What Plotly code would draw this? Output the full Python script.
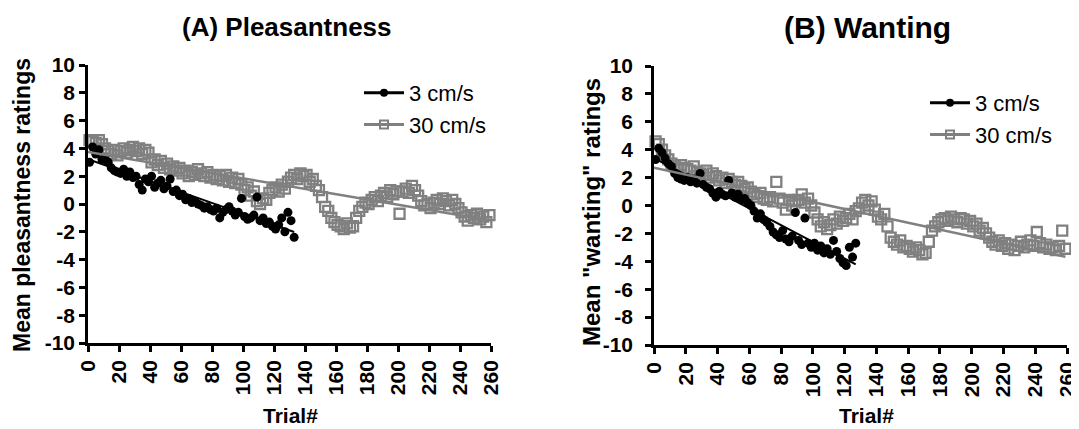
import numpy as np
import plotly.graph_objects as go

# ---------------- data ----------------
trials_30 = list(range(1, 260, 2))          # 30 cm/s trials (every other trial shown)
trials_3_pleas = list(range(1, 134, 2))     # 3 cm/s trials, pleasantness
trials_3_want = list(range(1, 128, 2))      # 3 cm/s trials, wanting

pleas_30 = [
    4.6, 4.5, 4.4, 4.6, 4.3,   4.0, 3.8, 3.6, 3.9, 3.5,
    3.8, 4.0, 3.7, 3.9, 4.1,   3.8, 4.0, 3.6, 3.9, 3.7,
    3.0, 3.2, 2.8, 3.1, 2.6,   2.9, 2.5, 2.7, 2.4, 2.6,
    2.2, 2.4, 2.0, 2.3, 2.1,   2.5, 2.2, 2.0, 2.3, 1.9,
    2.1, 1.8, 2.0, 1.7, 2.1,   1.6, 1.9, 1.5, 1.8, 1.4,
    1.0, 1.2, 0.6, 0.9, 0.2,   0.0, 0.4, 0.3, 0.8, 1.0,
    1.2, 0.9, 1.4, 1.1, 1.6,   1.9, 2.1, 1.8, 2.2, 2.0,
    2.1, 1.6, 1.8, 1.3, 1.0,   0.5, -0.2, -0.5, -1.0, -1.3,
    -1.5, -1.6, -1.8, -1.4, -1.7,   -1.6, -1.0, -0.5, -0.2, 0.1,
    0.0, 0.3, 0.5, 0.2, 0.6,   0.8, 0.5, 1.0, 0.7, 0.9,
    -0.7, 0.9, 1.1, 0.8, 1.3,   1.0, 0.6, 0.2, -0.1, 0.0,
    -0.3, 0.1, 0.3, 0.0, 0.4,   0.2, -0.1, 0.3, 0.0, -0.3,
    -0.6, -0.9, -1.2, -0.8, -1.0,   -0.7, -1.1, -0.9, -1.3, -0.8,
]

pleas_3 = [
    3.0, 4.1, 3.6, 3.9, 3.2,   3.3, 3.0, 2.6, 2.4, 2.3,
    2.2, 2.5, 2.0, 2.3, 1.9,   2.0, 1.4, 1.0, 1.8, 1.6,
    2.0, 1.2, 1.5, 1.7, 1.1,   1.3, 1.8, 0.9, 1.0, 0.6,
    0.7, 0.3, 0.4, 0.1, 0.2,   0.0, -0.1, -0.3, -0.2, -0.4,
    -0.5, -0.3, -1.0, -0.6, -0.4,   -0.2, -0.5, -0.8, -0.6, 0.4,
    -0.9, -1.1, -1.0, -0.8, 0.5,   -1.2, -1.0, -1.4, -1.3, -1.6,
    -1.8, -1.5, -1.0, -2.0, -0.6,   -1.2, -2.4,
]

want_30 = [
    4.6, 4.4, 4.0, 3.6, 3.3,   3.0, 2.8, 2.6, 2.9, 2.7,
    2.6, 2.5, 2.8, 2.4, 2.3,   2.2, 2.5, 2.0, 2.3, 2.1,
    1.8, 2.0, 1.6, 1.9, 1.7,   1.5, 1.7, 1.4, 1.2, 1.3,
    1.0, 0.8, 0.6, 0.9, 0.5,   0.4, 0.6, 0.3, 1.7, 0.5,
    0.2, -0.3, 0.4, 0.0, 0.3,   0.4, 0.8, 0.2, 0.5, 0.0,
    -0.5, -1.0, -1.5, -1.2, -1.7,   -1.4, -1.0, -1.3, -0.8, -1.1,
    -0.9, -0.6, -1.0, -0.4, -0.2,   0.2, 0.4, 0.0, 0.3, -0.3,
    -0.8, -1.0, -0.6, -1.5, -2.3,   -2.6, -2.8, -2.5, -3.0, -2.9,
    -3.1, -3.3, -3.0, -3.2, -3.5,   -3.4, -2.6, -1.8, -1.5, -1.2,
    -1.0, -0.9, -1.1, -0.8, -1.0,   -1.2, -0.9, -1.0, -1.3, -1.1,
    -1.5, -1.3, -1.8, -1.6, -2.0,   -2.3, -2.6, -2.8, -2.5, -2.9,
    -2.7, -3.1, -2.8, -3.2, -2.9,   -2.6, -3.0, -2.8, -2.5, -2.9,
    -1.9, -2.7, -3.0, -2.8, -3.1,   -3.0, -3.2, -2.9, -1.8, -3.1,
]

want_3 = [
    3.3, 4.1, 3.8, 3.4, 3.0,   2.8, 2.3, 2.0, 1.9, 1.8,
    2.0, 1.7, 1.9, 1.6, 2.3,   1.5, 1.3, 1.2, 0.9, 0.6,
    1.0, 0.8, 0.7, 1.8, 0.9,   0.6, 0.8, 0.4, 0.5, 0.2,
    0.0, -0.4, -0.9, -0.6, -1.0,   -1.2, -1.5, -1.9, -2.1, -2.3,
    -1.8, -2.4, -2.6, -2.2, -0.5,   -2.5, -2.8, -0.9, -2.7, -3.0,
    -2.7, -3.2, -2.9, -3.4, -3.1,   -3.5, -2.5, -3.3, -3.8, -4.1,
    -4.3, -3.0, -3.7, -2.7,
]

x_ticks = list(range(0, 261, 20))
y_ticks = list(range(-10, 11, 2))
x_ticktext = [str(v) for v in x_ticks]
y_ticktext = [str(v) for v in y_ticks]   # plain hyphen minus, as in the original
series_names = ["3 cm/s", "30 cm/s"]
panel_titles = ["(A) Pleasantness", "(B) Wanting"]
y_titles = ["Mean pleasantness ratings", 'Mean "wanting" ratings']
x_title = "Trial#"

BLACK = "#000000"
GREY = "#808080"
FONT = "Liberation Sans, Arial, sans-serif"

# the page body has an 8px default margin; lay out in page pixels and convert
OFF = 8
W, H = 1079 - OFF, 429 - OFF


def px(x):
    return (x - OFF) / W


def py(y):
    return 1 - (y - OFF) / H


fig = go.Figure()


def fit_line(xs, ys):
    xs = np.asarray(xs, float)
    ys = np.asarray(ys, float)
    m, b = np.polyfit(xs, ys, 1)
    xf = np.array([0.0, xs.max()])
    return xf, m * xf + b


panels = [
    ("x", "y", trials_3_pleas, pleas_3, pleas_30, "legend"),
    ("x2", "y2", trials_3_want, want_3, want_30, "legend2"),
]

for xa, ya, t3, v3, v30, leg in panels:
    fig.add_trace(go.Scatter(
        x=trials_30, y=v30, mode="markers", xaxis=xa, yaxis=ya,
        marker=dict(symbol="square-open", size=10, color=GREY, line=dict(width=2.3, color=GREY)),
        showlegend=False, cliponaxis=False, hoverinfo="skip"))
    fig.add_trace(go.Scatter(
        x=t3, y=v3, mode="markers", xaxis=xa, yaxis=ya,
        marker=dict(symbol="circle", size=9, color=BLACK),
        showlegend=False, cliponaxis=False, hoverinfo="skip"))
    xf, yf = fit_line(t3, v3)
    fig.add_trace(go.Scatter(x=xf, y=yf, mode="lines", xaxis=xa, yaxis=ya,
                             line=dict(color=BLACK, width=2), showlegend=False, hoverinfo="skip"))
    xf, yf = fit_line(trials_30, v30)
    fig.add_trace(go.Scatter(x=xf, y=yf, mode="lines", xaxis=xa, yaxis=ya,
                             line=dict(color=GREY, width=2.5), showlegend=False, hoverinfo="skip"))
    fig.add_trace(go.Scatter(x=[None], y=[None], mode="lines+markers", name=series_names[0],
                             xaxis=xa, yaxis=ya, legend=leg,
                             line=dict(color=BLACK, width=3),
                             marker=dict(symbol="circle", size=8, color=BLACK)))
    fig.add_trace(go.Scatter(x=[None], y=[None], mode="lines+markers", name=series_names[1],
                             xaxis=xa, yaxis=ya, legend=leg,
                             line=dict(color=GREY, width=3),
                             marker=dict(symbol="square-open", size=8, color=GREY,
                                         line=dict(width=2, color=GREY))))

axis_common = dict(
    showline=True, linecolor=BLACK, linewidth=2.5, ticks="outside", ticklen=6,
    tickwidth=2.5, tickcolor=BLACK, showgrid=False, zeroline=False, automargin=False,
    tickfont=dict(family=FONT, size=21, color=BLACK, weight="bold"),
)

fig.update_layout(
    width=W, height=H, margin=dict(l=0, r=0, t=0, b=0, autoexpand=False),
    paper_bgcolor="white", plot_bgcolor="white",
    xaxis=dict(domain=[px(88), px(491)], range=[0, 260], tickvals=x_ticks, ticktext=x_ticktext,
               tickangle=-90, anchor="y", **axis_common),
    yaxis=dict(domain=[py(343), py(65)], range=[-10, 10], tickvals=y_ticks,
               ticktext=y_ticktext, anchor="x", **axis_common),
    xaxis2=dict(domain=[px(654), px(1067)], range=[0, 260], tickvals=x_ticks, ticktext=x_ticktext,
                tickangle=-90, anchor="y2", ticklabeloverflow="allow", **axis_common),
    yaxis2=dict(domain=[py(345), py(66)], range=[-10, 10], tickvals=y_ticks,
                ticktext=y_ticktext, anchor="x2", ticklabelstandoff=8, **axis_common),
    legend=dict(x=px(359), y=py(72), xanchor="left", yanchor="top",
                font=dict(family=FONT, size=22, color=BLACK), bgcolor="rgba(0,0,0,0)",
                tracegroupgap=0, itemwidth=40),
    legend2=dict(x=px(925), y=py(82), xanchor="left", yanchor="top",
                 font=dict(family=FONT, size=22, color=BLACK), bgcolor="rgba(0,0,0,0)",
                 tracegroupgap=0, itemwidth=40),
    showlegend=True,
)

annots = [
    dict(text=panel_titles[0], x=px(287), y=py(27), size=26),
    dict(text=panel_titles[1], x=px(867), y=py(27), size=30),
    dict(text=x_title, x=px(290), y=py(415), size=21),
    dict(text=x_title, x=px(866), y=py(415), size=21),
]
for a in annots:
    fig.add_annotation(text=a["text"], x=a["x"], y=a["y"], xref="paper", yref="paper",
                       xanchor="center", yanchor="middle", showarrow=False,
                       font=dict(family=FONT, size=a["size"], color=BLACK, weight="bold"))

for txt, xp, yp, sz in [(y_titles[0], 22, 205, 23), (y_titles[1], 591, 212, 24)]:
    fig.add_annotation(text=txt, x=px(xp), y=py(yp), xref="paper", yref="paper",
                       xanchor="center", yanchor="middle", showarrow=False, textangle=-90,
                       font=dict(family=FONT, size=sz, color=BLACK, weight="bold"))

fig.write_html("out.html")
